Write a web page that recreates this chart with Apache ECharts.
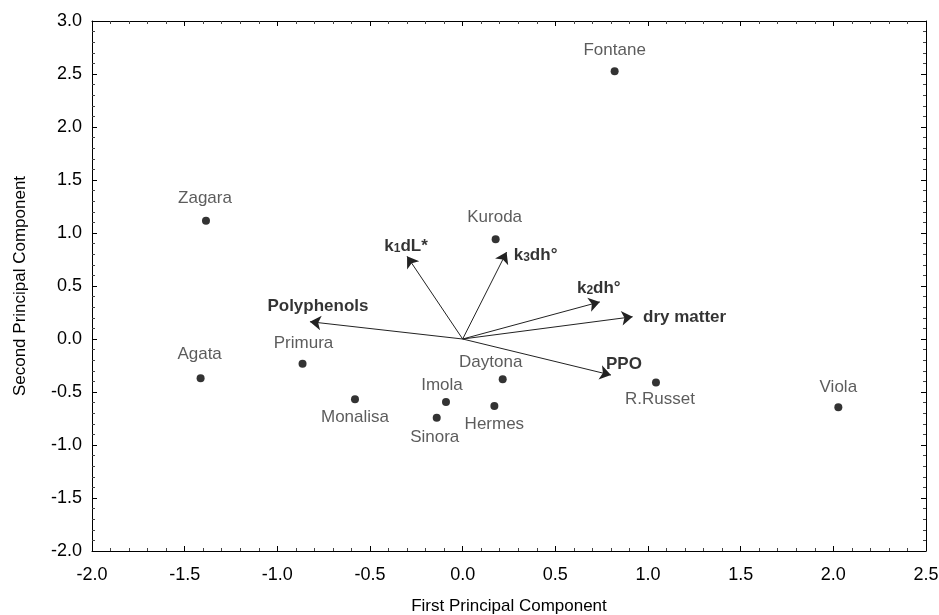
<!DOCTYPE html>
<html>
<head>
<meta charset="utf-8">
<script src="https://cdn.jsdelivr.net/npm/echarts@6/dist/echarts.min.js"></script>
<style>
html,body{margin:0;padding:0;background:#fff;}
#chart{width:939px;height:615px;}
</style>
</head>
<body>
<div id="chart"></div>
<script>
// Cultivar scores
const cultivars = ['Fontane','Zagara','Kuroda','Agata','Primura','Monalisa','Imola','Sinora','Hermes','Daytona','R.Russet','Viola'];
const pc1 = [0.82, -1.385, 0.178, -1.414, -0.864, -0.581, -0.09, -0.14, 0.171, 0.216, 1.043, 2.027];
const pc2 = [2.525, 1.115, 0.94, -0.371, -0.233, -0.569, -0.594, -0.742, -0.632, -0.38, -0.41, -0.645];

// Variable loadings (arrows)
const variables = ['k1dL*', 'k3dh°', 'k2dh°', 'dry matter', 'Polyphenols', 'PPO'];
const loadX = [-0.30, 0.237, 0.74, 0.917, -0.824, 0.80];
const loadY = [0.78, 0.82, 0.35, 0.21, 0.163, -0.34];

// Axis ticks
const xTicks = [-2.0, -1.5, -1.0, -0.5, 0.0, 0.5, 1.0, 1.5, 2.0, 2.5];
const yTicks = [-2.0, -1.5, -1.0, -0.5, 0.0, 0.5, 1.0, 1.5, 2.0, 2.5, 3.0];

// label placement (style)
const cultivarLabelOffset = {
  'Fontane':[0,-21],'Zagara':[-1,-22],'Kuroda':[-1,-22],'Agata':[-1,-24],'Primura':[1,-20],
  'Monalisa':[0,18],'Imola':[-4,-17],'Sinora':[-2,20],'Hermes':[0,18],'Daytona':[-12,-17],
  'R.Russet':[4,17],'Viola':[0,-20]
};
const variableLabelOffset = {
  'k1dL*':[-1,-10],'k3dh°':[29,3],'k2dh°':[-1,-14],'dry matter':[52,1],'Polyphenols':[8,-15],'PPO':[13,-11]
};
const richLabel = {
  'k1dL*':'{b|k}{s|1}{b|dL*}',
  'k3dh°':'{b|k}{s|3}{b|dh°}',
  'k2dh°':'{b|k}{s|2}{b|dh°}',
  'dry matter':'{b|dry matter}',
  'Polyphenols':'{b|Polyphenols}',
  'PPO':'{b|PPO}'
};

const FONT = '"Liberation Sans", Arial, Helvetica, sans-serif';
const chart = echarts.init(document.getElementById('chart'), null, {renderer:'canvas'});

const axisCommon = {
  type:'value',
  axisLine:{show:true, onZero:false, lineStyle:{color:'#000', width:1}},
  axisTick:{show:true, inside:true, length:5, lineStyle:{color:'#000'}},
  minorTick:{show:true, splitNumber:5, length:3, lineStyle:{color:'#444'}},
  splitLine:{show:false},
  minorSplitLine:{show:false}
};

const option = {
  animation:false,
  backgroundColor:'#fff',
  grid:{left:92, right:13, top:21, bottom:64, containLabel:false, outerBoundsMode:'none'},
  xAxis:[
    Object.assign({}, axisCommon, {
      position:'bottom', min:xTicks[0], max:xTicks[xTicks.length-1], interval:0.5,
      name:'First Principal Component', nameLocation:'middle', nameGap:47,
      nameTextStyle:{fontFamily:FONT, fontSize:17, color:'#000'},
      axisLabel:{fontFamily:FONT, fontSize:18, color:'#000', margin:15, formatter:v=>v.toFixed(1)}
    }),
    Object.assign({}, axisCommon, {
      position:'top', min:xTicks[0], max:xTicks[xTicks.length-1], interval:0.5,
      axisLabel:{show:false}
    })
  ],
  yAxis:[
    Object.assign({}, axisCommon, {
      position:'left', min:yTicks[0], max:yTicks[yTicks.length-1], interval:0.5,
      name:'Second Principal Component', nameLocation:'middle', nameGap:63,
      nameTextStyle:{fontFamily:FONT, fontSize:17, color:'#000'},
      axisLabel:{fontFamily:FONT, fontSize:18, color:'#000', margin:10, formatter:v=>v.toFixed(1)}
    }),
    Object.assign({}, axisCommon, {
      position:'right', min:yTicks[0], max:yTicks[yTicks.length-1], interval:0.5,
      axisLabel:{show:false}
    })
  ],
  series:[
    {
      type:'lines',
      coordinateSystem:'cartesian2d',
      xAxisIndex:0, yAxisIndex:0,
      symbol:['none','arrow'],
      symbolSize:[0,11],
      lineStyle:{color:'#222', width:1, opacity:1},
      data: variables.map((v,i)=>({coords:[[0,0],[loadX[i],loadY[i]]]})),
      silent:true, z:2
    },
    {
      type:'scatter',
      xAxisIndex:0, yAxisIndex:0,
      symbol:'circle', symbolSize:1,
      itemStyle:{color:'rgba(0,0,0,0)'},
      data: variables.map((v,i)=>({
        value:[loadX[i],loadY[i]],
        label:{show:true, position:'inside', offset:variableLabelOffset[v], formatter:richLabel[v],
          rich:{
            b:{fontFamily:FONT, fontSize:17, fontWeight:'bold', color:'#000'},
            s:{fontFamily:FONT, fontSize:12, fontWeight:'bold', color:'#000', verticalAlign:'bottom'}
          }}
      })),
      silent:true, z:3
    },
    {
      type:'scatter',
      xAxisIndex:0, yAxisIndex:0,
      symbol:'circle', symbolSize:8,
      itemStyle:{color:'#000'},
      data: cultivars.map((c,i)=>({
        name:c, value:[pc1[i],pc2[i]],
        label:{show:true, position:'inside', offset:cultivarLabelOffset[c], formatter:c,
          fontFamily:FONT, fontSize:17, color:'#333'}
      })),
      silent:true, z:4
    }
  ]
};
chart.setOption(option);
</script>
</body>
</html>
